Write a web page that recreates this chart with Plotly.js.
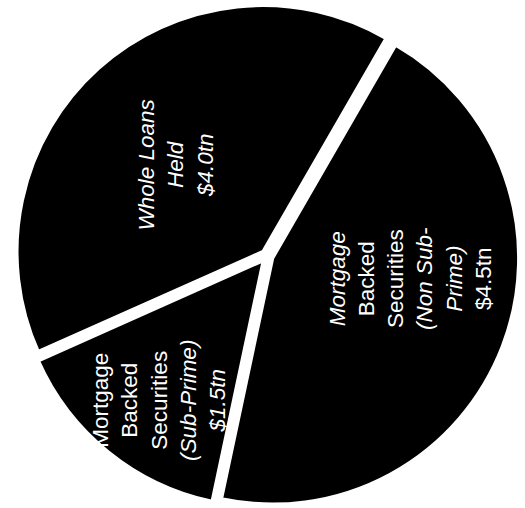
<!DOCTYPE html>
<html>
<head>
<meta charset="utf-8">
<script src="https://cdn.plot.ly/plotly-3.0.1.min.js"></script>
<style>html,body{margin:0;padding:0;background:#fff;}#chart{width:525px;height:508px;}</style>
</head>
<body>
<div id="chart"></div>
<script>
// Data
var categories = [
  "Mortgage Backed Securities (Non Sub-Prime)",
  "Mortgage Backed Securities (Sub-Prime)",
  "Whole Loans Held"
];
var valuesTn = [4.5, 1.5, 4.0];
var labelLines = [
  ["<i>Mortgage</i>", "Backed", "Securities", "<i>(Non Sub-</i>", "<i>Prime)</i>", "$4.5tn"],
  ["Mortgage", "Backed", "Securities", "<i>(Sub-Prime)</i>", "<i>$1.5tn</i>"],
  ["<i>Whole Loans</i>", "<i>Held</i>", "<i>$4.0tn</i>"]
];

// Layout / style constants
var W = 525, H = 508;
var ROT = 30, PULL = 0.025;
var domX = [14 / W, 520 / W], domY = [0, 1 - 4 / H];
var labelR = [0.59, 0.735, 0.525];    // radial fraction for label centre
var labelDAng = [-12, -2.3, -3];      // angular tweak (deg, clockwise)

// geometry (mirrors Plotly's pie scaling)
var boxW = W * (domX[1] - domX[0]), boxH = H * (domY[1] - domY[0]);
var R = Math.min(boxW, boxH) / (2 + 2 * PULL);
var cx = W * (domX[0] + domX[1]) / 2;
var cy = H * (1 - domY[0]) - boxH / 2;
var total = valuesTn.reduce(function (a, b) { return a + b; }, 0);

var annotations = [];
var cum = 0;
for (var i = 0; i < valuesTn.length; i++) {
  var mid = ROT + (cum + valuesTn[i] / 2) / total * 360 + labelDAng[i];
  cum += valuesTn[i];
  var a = mid * Math.PI / 180;
  var px = cx + labelR[i] * R * Math.sin(a);
  var py = cy - labelR[i] * R * Math.cos(a);
  annotations.push({
    xref: "paper", yref: "paper",
    x: px / W, y: 1 - py / H,
    xanchor: "center", yanchor: "middle",
    text: labelLines[i].join("<br>"),
    textangle: -90,
    showarrow: false,
    align: "center",
    font: { family: "Liberation Sans, Arial, sans-serif", size: 22.5, color: "#ffffff" }
  });
}

var trace = {
  type: "pie",
  labels: categories,
  values: valuesTn,
  sort: false,
  direction: "clockwise",
  rotation: ROT,
  pull: PULL,
  textinfo: "none",
  hoverinfo: "label+value",
  domain: { x: domX, y: domY },
  marker: { colors: ["#000000", "#000000", "#000000"], line: { color: "#ffffff", width: 3 } },
  showlegend: false
};

Plotly.newPlot("chart", [trace], {
  width: W, height: H,
  margin: { l: 0, r: 0, t: 0, b: 0 },
  paper_bgcolor: "#ffffff",
  plot_bgcolor: "#ffffff",
  showlegend: false,
  annotations: annotations
}, { displayModeBar: false, staticPlot: true });
</script>
</body>
</html>
